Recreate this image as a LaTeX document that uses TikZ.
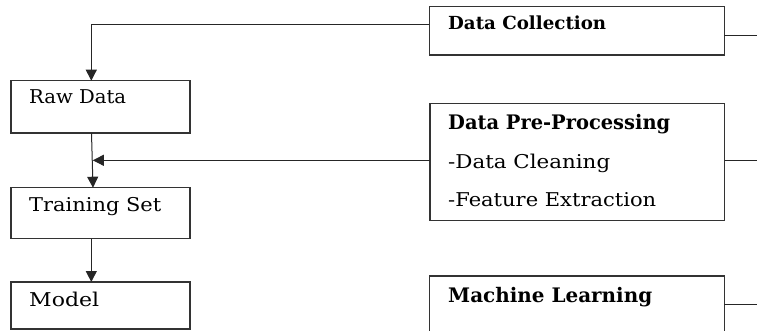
\documentclass[tikz,border=0pt]{standalone}
\usepackage{fontspec}
\setmainfont{DejaVu Serif}
\usepackage{graphicx}
\usetikzlibrary{arrows.meta}
\begin{document}
\begin{tikzpicture}[x=1pt,y=-1pt,
  box/.style={draw=black!80, line width=1.3pt, rectangle, inner sep=0pt, outer sep=0pt, anchor=north west},
  conn/.style={draw=black!85, line width=1pt},
  tip/.style={-{Triangle[length=11pt,width=11pt]}},
  lbl/.style={anchor=base west, inner sep=0pt, font=\fontsize{19}{23}\selectfont},
  blbl/.style={anchor=base west, inner sep=0pt, font=\fontsize{20}{24}\selectfont\bfseries}]
\useasboundingbox (0,0) rectangle (757,330);
\clip (0,0) rectangle (757,330);
% left column
\node[box, minimum width=179pt, minimum height=52.3pt] (raw) at (11,80.7) {};
\node[box, minimum width=179pt, minimum height=51pt] (train) at (11,187.7) {};
\node[box, minimum width=179pt, minimum height=47pt] (model) at (11,282) {};
% right column
\node[box, minimum width=295pt, minimum height=48.3pt] (dc) at (429.3,6.7) {};
\node[box, minimum width=294.7pt, minimum height=117pt] (dpp) at (430,103.7) {};
\node[box, minimum width=295pt, minimum height=80pt] (ml) at (429.3,276) {};
% texts
\node[lbl] (traw) at (29,103.5) {\resizebox{97pt}{\height}{Raw Data}};
\node[lbl] (ttrain) at (29,211.7) {\resizebox{132pt}{\height}{Training Set}};
\node[lbl] (tmodel) at (29,306) {\resizebox{70pt}{\height}{Model}};
\node[blbl, font=\fontsize{18}{22}\selectfont\bfseries] (tdc) at (448,29.3) {\resizebox{158pt}{\height}{Data Collection}};
\node[blbl] (tdpp) at (448,129.5) {\resizebox{222pt}{\height}{Data Pre-Processing}};
\node[lbl] (tclean) at (448,168) {\resizebox{162pt}{\height}{-Data Cleaning}};
\node[lbl] (tfeat) at (448,206.5) {\resizebox{208pt}{\height}{-Feature Extraction}};
\node[blbl] (tml) at (448,302) {\resizebox{204pt}{\height}{Machine Learning}};
% free ends
\coordinate (dcR) at (757,35.7);
\coordinate (dppR) at (757,160.3);
\coordinate (mlR) at (757,304);
\coordinate (j) at (92.8,160.3);
% connectors
\draw[conn,tip] ([yshift=-17.6pt]dc.north west) -| ([xshift=80.3pt]raw.north west);
\draw[conn] ([yshift=-29pt]dc.north east) -- (dcR);
\draw[conn,tip] ([yshift=-56.6pt]dpp.north west) -- (j);
\draw[conn] ([yshift=-56.6pt]dpp.north east) -- (dppR);
\draw[conn] ([yshift=-28pt]ml.north east) -- (mlR);
\draw[conn,tip] ([xshift=80.5pt]raw.south west) -- ([xshift=82pt]train.north west);
\draw[conn,tip] ([xshift=80.3pt]train.south west) -- ([xshift=80.3pt]model.north west);
\end{tikzpicture}
\end{document}
